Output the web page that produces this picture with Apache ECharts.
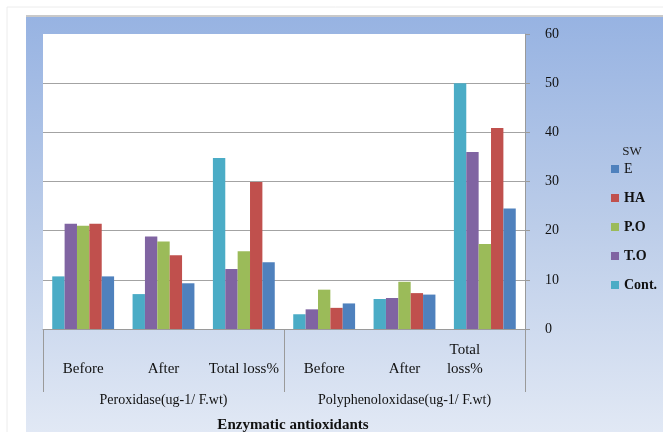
<!DOCTYPE html>
<html>
<head>
<meta charset="utf-8">
<script src="https://cdn.jsdelivr.net/npm/echarts@6/dist/echarts.min.js"></script>
<style>
  html, body { margin: 0; padding: 0; background: #ffffff; }
  #chart { width: 663px; height: 432px; }
</style>
</head>
<body>
<div id="chart"></div>
<script>
// Stages measured for each enzyme
var categories = ['Before', 'After', 'Total loss%', 'Before', 'After', 'Total loss%'];
var enzymes = ['Peroxidase(ug-1/ F.wt)', 'Polyphenoloxidase(ug-1/ F.wt)'];
var yTicks = [0, 10, 20, 30, 40, 50, 60];

// Treatment values per stage
var contValues = [10.7, 7.1, 34.8, 3.0, 6.1, 50.0];
var toValues   = [21.4, 18.8, 12.2, 4.0, 6.3, 36.0];
var poValues   = [21.0, 17.8, 15.8, 8.0, 9.6, 17.3];
var haValues   = [21.4, 15.0, 29.9, 4.3, 7.3, 40.9];
var eValues    = [10.7, 9.3, 13.6, 5.2, 7.0, 24.5];

var seriesNames = ['Cont.', 'T.O', 'P.O', 'HA', 'E'];
var seriesData = [contValues, toValues, poValues, haValues, eValues];
var seriesColors = ['#4BACC6', '#8064A2', '#9BBB59', '#C0504D', '#4F81BD'];
var legendOrder = ['E', 'HA', 'P.O', 'T.O', 'Cont.'];

var serif = '"Liberation Serif", "Times New Roman", serif';
var axisGray = '#9a9a9a';

var chart = echarts.init(document.getElementById('chart'), null, { renderer: 'canvas' });

var series = seriesNames.map(function (name, i) {
  return {
    name: name,
    type: 'bar',
    data: seriesData[i],
    barGap: '0%',
    barCategoryGap: '23%',
    itemStyle: { color: seriesColors[i] },
    emphasis: { disabled: true }
  };
});

var option = {
  animation: false,
  backgroundColor: '#ffffff',
  graphic: [
    { type: 'rect', z: -10, silent: true,
      shape: { x: 7, y: 7, width: 670, height: 440 },
      style: { fill: '#ffffff', stroke: '#ececec', lineWidth: 1 } },
    { type: 'rect', z: -9, silent: true,
      shape: { x: 26, y: 15, width: 640, height: 2 },
      style: { fill: '#c9c9c9' } },
    { type: 'rect', z: -8, silent: true,
      shape: { x: 26, y: 17, width: 640, height: 420 },
      style: {
        fill: new echarts.graphic.LinearGradient(0, 0, 0, 1, [
          { offset: 0, color: '#97b3e2' },
          { offset: 0.5, color: '#bccde9' },
          { offset: 1, color: '#e2e9f5' }
        ])
      } }
  ],
  title: [
    { text: 'SW', left: 627, top: 140, textAlign: 'center',
      textStyle: { fontFamily: serif, fontSize: 13, fontWeight: 'normal', color: '#222' } },
    { text: 'Enzymatic antioxidants', left: 288, top: 413, textAlign: 'center',
      textStyle: { fontFamily: serif, fontSize: 15, fontWeight: 'bold', color: '#111' } }
  ],
  legend: {
    orient: 'vertical',
    left: 606,
    top: 157,
    itemWidth: 8,
    itemHeight: 8,
    itemGap: 15,
    icon: 'rect',
    selectedMode: false,
    textStyle: { fontFamily: serif, fontSize: 14, fontWeight: 'bold', color: '#111' },
    data: legendOrder.map(function (n) {
      return n === 'E' ? { name: n, textStyle: { fontWeight: 'normal' } } : { name: n };
    })
  },
  grid: {
    left: 43, top: 34, width: 482, height: 295,
    show: true, backgroundColor: '#ffffff', borderWidth: 0
  },
  xAxis: [
    {
      type: 'category',
      data: categories,
      axisLine: { show: true, lineStyle: { color: axisGray, width: 1 } },
      axisTick: { show: false },
      axisLabel: {
        interval: 0,
        margin: 50,
        verticalAlign: 'bottom',
        fontFamily: serif,
        fontSize: 15,
        color: '#111',
        formatter: function (value, index) {
          if (index === categories.length - 1) {
            var parts = value.split(' ');
            return '{s|' + parts[0] + '}\n{s|' + parts[1] + '}';
          }
          return '{n|' + value + '}';
        },
        rich: {
          n: { fontFamily: serif, fontSize: 15, color: '#111', lineHeight: 19 },
          s: { fontFamily: serif, fontSize: 15, color: '#111', lineHeight: 19, padding: [0, 40, 0, 0] }
        }
      }
    },
    {
      type: 'category',
      data: enzymes,
      position: 'bottom',
      axisLine: { show: false },
      axisTick: { show: true, length: 63, inside: false, lineStyle: { color: axisGray, width: 1 } },
      axisLabel: {
        interval: 0,
        margin: 64,
        fontFamily: serif,
        fontSize: 14,
        color: '#111'
      }
    }
  ],
  yAxis: {
    type: 'value',
    position: 'right',
    min: yTicks[0],
    max: yTicks[yTicks.length - 1],
    interval: 10,
    axisLine: { show: true, lineStyle: { color: axisGray, width: 1 } },
    axisTick: { show: true, length: 5, lineStyle: { color: axisGray } },
    splitLine: { show: true, showMaxLine: false, lineStyle: { color: '#a3a3a3', width: 1.2 } },
    axisLabel: { margin: 20, fontFamily: serif, fontSize: 14, color: '#111' }
  },
  series: series
};

chart.setOption(option);
</script>
</body>
</html>
